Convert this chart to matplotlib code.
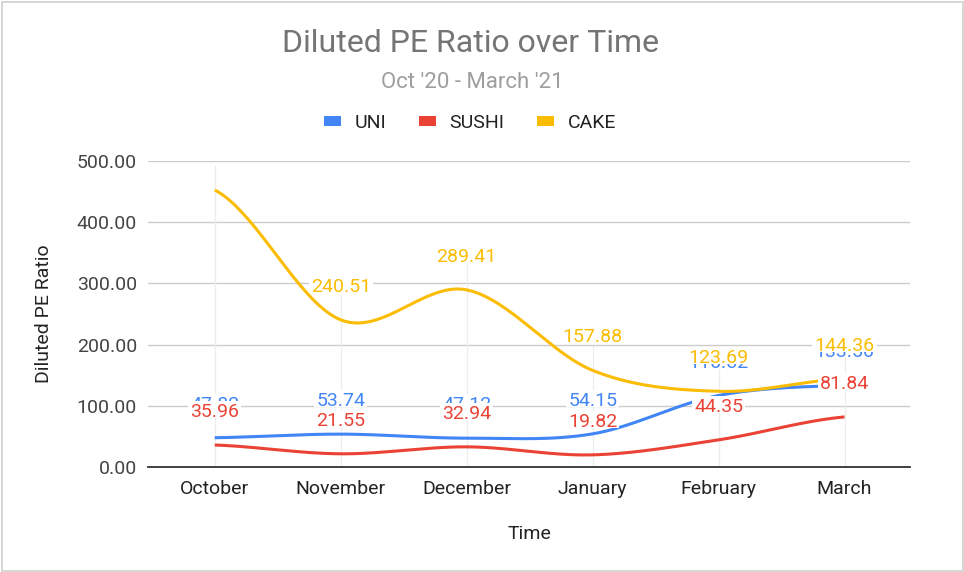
import numpy as np
import matplotlib
matplotlib.use("Agg")
import matplotlib.pyplot as plt
from matplotlib.patches import Patch, Rectangle
from matplotlib.transforms import IdentityTransform

# ---- data ----
months = ["October", "November", "December", "January", "February", "March"]
uni = [47.82, 53.74, 47.12, 54.15, 116.82, 133.56]
sushi = [35.96, 21.55, 32.94, 19.82, 44.35, 81.84]
cake = [452.60, 240.51, 289.41, 157.88, 123.69, 144.36]
yticks = [0, 100, 200, 300, 400, 500]

series = [("UNI", uni, "#4285F4"), ("SUSHI", sushi, "#EA4335"), ("CAKE", cake, "#FBBC04")]

plt.rcParams['font.family'] = ['Roboto', 'DejaVu Sans']


def smooth(xs, ys, n=40):
    xs = np.asarray(xs, float)
    ys = np.asarray(ys, float)
    m = np.zeros_like(ys)
    m[1:-1] = (ys[2:] - ys[:-2]) / 2.0
    m[0] = 0.5 * (ys[1] - ys[0])
    m[-1] = 0.5 * (ys[-1] - ys[-2])
    ox, oy = [], []
    for i in range(len(xs) - 1):
        t = np.linspace(0, 1, n, endpoint=(i == len(xs) - 2))
        h00 = 2 * t**3 - 3 * t**2 + 1
        h10 = t**3 - 2 * t**2 + t
        h01 = -2 * t**3 + 3 * t**2
        h11 = t**3 - t**2
        oy.append(h00 * ys[i] + h10 * m[i] + h01 * ys[i + 1] + h11 * m[i + 1])
        ox.append(xs[i] + t * (xs[i + 1] - xs[i]))
    return np.concatenate(ox), np.concatenate(oy)


W, H = 964, 572
fig = plt.figure(figsize=(W / 100, H / 100), dpi=100)
fig.patch.set_facecolor("white")
fig.patches.append(Rectangle((1.5 / W, 1.5 / H), 1 - 3 / W, 1 - 3 / H, transform=fig.transFigure,
                             fill=False, ec="#d0d0d0", lw=1.2))

ax = fig.add_axes([148 / W, 1 - 467 / H, (910 - 148) / W, (467 - 161) / H])
x = np.arange(len(months))
ax.set_xlim(-0.53, len(months) - 1 + 0.52)
ax.set_ylim(0, 500)

for s in ["top", "right", "left"]:
    ax.spines[s].set_visible(False)
ax.spines["bottom"].set_color("#333333")
ax.spines["bottom"].set_linewidth(1.3)
ax.spines["bottom"].set_zorder(20)

ax.set_yticks(yticks)
ax.set_yticklabels([f"{v:.2f}" for v in yticks])
ax.yaxis.grid(True, color="#cccccc", lw=1.0)
ax.set_axisbelow(True)
ax.tick_params(axis="y", length=0, pad=8, labelsize=14, labelcolor="#444444")
ax.set_xticks(x)
ax.set_xticklabels(months)
ax.tick_params(axis="x", length=0, pad=9, labelsize=14, labelcolor="#222222")

ax.set_ylabel("Diluted PE Ratio", fontsize=14, color="#222222", labelpad=17)
ax.set_xlabel("Time", fontsize=14, color="#222222", labelpad=20)

# faint vertical guide lines at categories
tops = np.max(np.array([uni, sushi, cake]), axis=0)
for xi, t in zip(x, tops):
    ax.plot([xi, xi], [0, min(t + 40, 500)], color="#ededed", lw=0.9, zorder=1)

for name, vals, col in series:
    sx, sy = smooth(x, vals)
    ax.plot(sx, sy, color=col, lw=2.2, zorder=3, solid_capstyle="butt")

fig.text(471 / W, 1 - 44 / H, "Diluted PE Ratio over Time", ha="center", va="center",
         fontsize=23, color="#757575")
fig.text(472 / W, 1 - 82 / H, "Oct '20 - March '21", ha="center", va="center",
         fontsize=16, color="#9e9e9e")

handles = [Patch(facecolor=c, edgecolor="none", label=n) for n, _, c in series]
fig.legend(handles=handles, loc="center", bbox_to_anchor=(470 / W, 1 - 123 / H), ncol=3,
           frameon=False, fontsize=14, handlelength=0.85, handleheight=0.4,
           handletextpad=0.7, columnspacing=1.7, labelcolor="#222222")

# data labels: white box covers from baseline to top of the digits
base_px = 28
lab_fs = 14
cap_px = 0.72 * lab_fs * 100 / 72
texts = []
for k, (name, vals, col) in enumerate(series):
    for xi, v in zip(x, vals):
        px = ax.transData.transform((xi, v))
        top_px = ax.transData.transform((xi, 500))[1]
        if px[1] + base_px + cap_px > top_px:
            continue
        t = ax.annotate(f"{v:.2f}", (xi, v), xytext=(0, base_px * 0.72), textcoords="offset points",
                        ha="center", va="baseline", fontsize=lab_fs, color=col, zorder=11 + 2 * k)
        texts.append((t, k, px[1] + base_px))

fig.canvas.draw()
renderer = fig.canvas.get_renderer()
for t, k, by in texts:
    bb = t.get_window_extent(renderer)
    r = Rectangle((bb.x0 - 2, by - 1), bb.width + 4, cap_px + 3, transform=IdentityTransform(),
                  fc="white", ec="none", zorder=10 + 2 * k)
    ax.add_artist(r)

fig.savefig("out.png", dpi=100, facecolor="white")
